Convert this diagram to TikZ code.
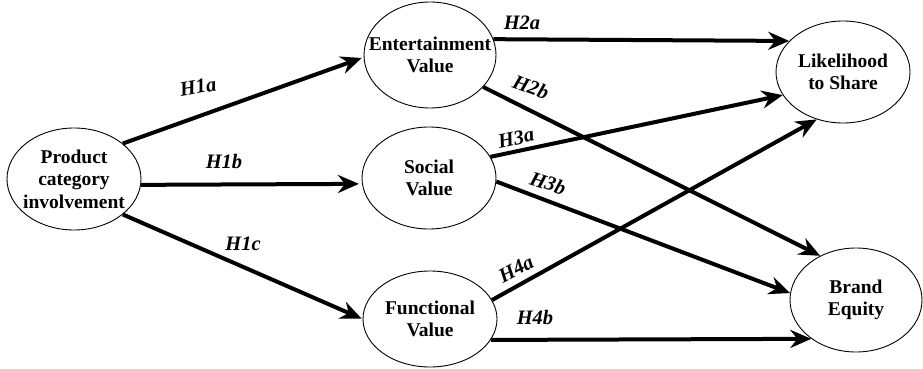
\documentclass[tikz,border=0pt]{standalone}
\usepackage{fontspec}
\setmainfont{Liberation Serif}
\usetikzlibrary{arrows.meta,calc,shapes.geometric}
\tikzset{
  ell/.style={draw, ellipse, line width=0.9pt, inner sep=0pt},
  txt/.style={align=center, inner sep=0pt, font=\fontsize{19.5}{22.5}\selectfont\bfseries},
  arr/.style={line width=4pt, -{Stealth[length=21pt,width=18pt,inset=7pt]}},
  hyp/.style={font=\fontsize{20.5}{22}\selectfont\bfseries\itshape, inner sep=0pt}
}
\begin{document}
\begin{tikzpicture}[x=1pt,y=-1pt]
\useasboundingbox (0,0) rectangle (923,369);
\node[ell, minimum width=134pt, minimum height=102pt] (prod) at (74,179) {};
\node[ell, minimum width=132pt, minimum height=106pt] (ent) at (430,55) {};
\node[ell, minimum width=134pt, minimum height=102pt] (soc) at (429,178) {};
\node[ell, minimum width=134pt, minimum height=96pt] (func) at (430,319) {};
\node[ell, minimum width=134pt, minimum height=102pt] (like) at (843,72) {};
\node[ell, minimum width=132pt, minimum height=104pt] (brand) at (856,300) {};

\node[txt] (prodt) at (prod) {Product\\category\\involvement};
\node[txt] (entt) at (ent) {Entertainment\\Value};
\node[txt] (soct) at (soc) {Social\\Value};
\node[txt] (funct) at (func) {Functional\\Value};
\node[txt] (liket) at (like) {Likelihood\\to Share};
\node[txt] (brandt) at (brand) {Brand\\Equity};

\draw[arr, shorten >=2pt] (prod.36) -- (ent.182);
\draw[arr, shorten >=3pt] (prod.-5) -- (soc.185);
\draw[arr, shorten >=1pt] (prod.-36) -- (func.180);
\draw[arr] (ent.14) -- (like.150);
\draw[arr] (ent.-31) -- (brand.129);
\draw[arr] (soc.19) -- (like.-159);
\draw[arr] (soc.-3) -- (brand.174);
\draw[arr] (func.17) -- (like.-119);
\draw[arr] (func.-19) -- (brand.-139);

\node[hyp, rotate=10] (h1a) at (198,87) {H1a};
\node[hyp] (h1b) at (224,162) {H1b};
\node[hyp] (h1c) at (243,244) {H1c};
\node[hyp] (h2a) at (522,23) {H2a};
\node[hyp, rotate=-20] (h2b) at (531,87) {H2b};
\node[hyp, rotate=12] (h3a) at (516,138) {H3a};
\node[hyp, rotate=-18] (h3b) at (548,183) {H3b};
\node[hyp, rotate=28] (h4a) at (516,269) {H4a};
\node[hyp] (h4b) at (535,317) {H4b};
\end{tikzpicture}
\end{document}
